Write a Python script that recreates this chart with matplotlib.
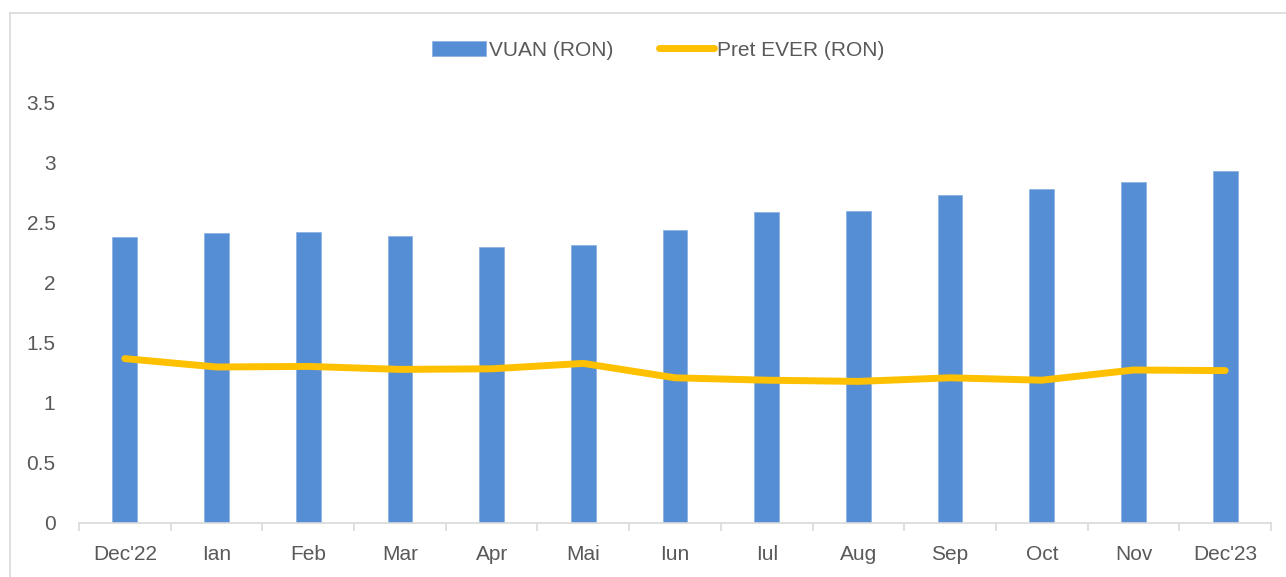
import matplotlib
matplotlib.use('Agg')
import matplotlib.pyplot as plt
from matplotlib.lines import Line2D
import numpy as np

# Monthly values
months = ["Dec'22", 'Ian', 'Feb', 'Mar', 'Apr', 'Mai', 'Iun', 'Iul', 'Aug', 'Sep', 'Oct', 'Nov', "Dec'23"]
vuan = [2.38, 2.42, 2.425, 2.39, 2.30, 2.32, 2.44, 2.59, 2.60, 2.73, 2.78, 2.84, 2.93]
pret_ever = [1.37, 1.30, 1.305, 1.28, 1.285, 1.33, 1.21, 1.19, 1.18, 1.21, 1.19, 1.275, 1.27]
yticks = [0, 0.5, 1, 1.5, 2, 2.5, 3, 3.5]

BAR = '#558ED5'
LINE = '#FFC000'
TEXT = '#595959'
GRID = '#D9D9D9'

plt.rcParams['font.family'] = ['Liberation Sans', 'DejaVu Sans']

fig = plt.figure(figsize=(12.86, 5.77), dpi=100)
ax = fig.add_axes([79 / 1286, 54 / 577, 1192 / 1286, 420 / 577])

x = np.arange(len(months))
bars = ax.bar(x, vuan, width=0.27, color=BAR, edgecolor='#8EB4E3', linewidth=0.6,
              label='VUAN (RON)', zorder=2)
line, = ax.plot(x, pret_ever, color=LINE, linewidth=5, solid_capstyle='round',
                solid_joinstyle='round', label='Pret EVER (RON)', zorder=3)

ax.set_xlim(-0.5, len(months) - 0.5)
ax.set_ylim(0, 3.5)
ax.set_yticks(yticks)
ax.set_yticklabels(['0', '0.5', '1', '1.5', '2', '2.5', '3', '3.5'])
ax.set_xticks(x)
ax.set_xticklabels(months)
ax.set_xticks(np.arange(-0.5, len(months), 1.0), minor=True)

for s in ['top', 'right', 'left']:
    ax.spines[s].set_visible(False)
ax.spines['bottom'].set_color(GRID)
ax.spines['bottom'].set_linewidth(1.2)

ax.tick_params(axis='y', length=0, pad=17, labelsize=15, labelcolor=TEXT)
ax.tick_params(axis='x', which='major', length=0, pad=16, labelsize=15, labelcolor=TEXT)
ax.tick_params(axis='x', which='minor', length=6, width=1.2, color=GRID)

leg = ax.legend(handles=[bars, line], loc='center',
                bbox_to_anchor=(658 / 1286, 1 - 50 / 577),
                bbox_transform=fig.transFigure, ncol=2, frameon=False,
                fontsize=15, handlelength=2.6, handletextpad=0.15,
                columnspacing=2.2)
for t in leg.get_texts():
    t.set_color(TEXT)

# light chart-area border (left and top edges visible)
fig.add_artist(Line2D([10 / 1286, 10 / 1286], [0, 1 - 13 / 577], transform=fig.transFigure,
                      color=GRID, linewidth=1.2))
fig.add_artist(Line2D([10 / 1286, 1], [1 - 13 / 577, 1 - 13 / 577], transform=fig.transFigure,
                      color=GRID, linewidth=1.2))

fig.savefig('out.png', dpi=100, facecolor='white')
